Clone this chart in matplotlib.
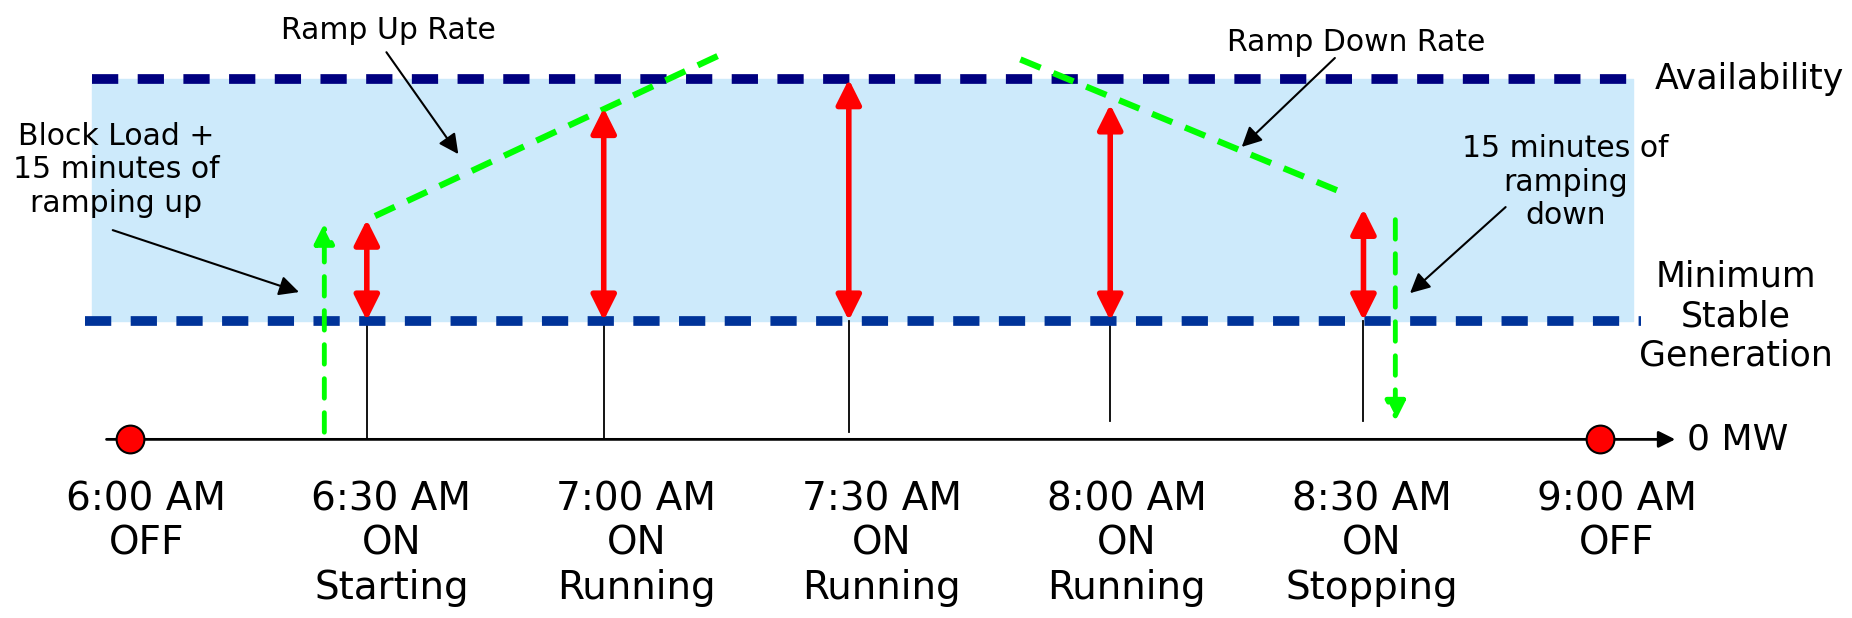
import numpy as np
import matplotlib
matplotlib.use("Agg")
import matplotlib.pyplot as plt

plt.rcParams['font.family'] = ['DejaVu Sans']

# time in minutes after 6:00 AM, output in MW (availability = 100)
clock_times = [0, 30, 60, 90, 120, 150, 180]
clock_labels = ["6:00 AM\nOFF", "6:30 AM\nON\nStarting", "7:00 AM\nON\nRunning",
                "7:30 AM\nON\nRunning", "8:00 AM\nON\nRunning", "8:30 AM\nON\nStopping",
                "9:00 AM\nOFF"]
off_times = [0, 180]

availability = 100
min_stable = 33

# dispatch points while the unit is on
on_times = [29, 58, 88, 120, 151]
on_output = [61, 92, 100, 93, 64]
tick_bottom = [0, 0, 2, 5, 5]

# ramp rate lines
ramp_up_t = [30, 72]
ramp_up_mw = [62, 106.5]
ramp_down_t = [109, 149]
ramp_down_mw = [105.5, 68]

# block load on start-up and final ramp to zero
start_t, start_from, start_to = 23.8, 2, 60
stop_t, stop_from, stop_to = 154.9, 61, 5

fig = plt.figure(figsize=(18.52, 6.18), dpi=100)
ax = fig.add_axes([0, 0, 1, 1])
ax.set_xlim(-15.9, 210.8)
ax.set_ylim(-49.6, 122)
ax.axis('off')

# operating band
ax.fill_between([-4.6, 184], min_stable, availability, color='#cdeafb', zorder=0)
ax.plot([-4.6, 184], [availability]*2, color='#000080', lw=7, dashes=(2.7, 2.0), zorder=2)
ax.plot([-5.5, 185], [min_stable]*2, color='#003399', lw=7, dashes=(2.7, 2.0), zorder=2)

# time axis
ax.annotate("", xy=(189.5, 0), xytext=(-3.2, 0),
            arrowprops=dict(arrowstyle='-|>', color='black', lw=2, mutation_scale=25))
ax.plot(off_times, [0, 0], 'o', color='red', mec='black', mew=1.5, ms=20, zorder=5)
ax.text(190.6, 0, "0 MW", fontsize=26, va='center', ha='left')

# vertical markers and the MW above minimum stable generation
for t, mw, yb in zip(on_times, on_output, tick_bottom):
    ax.plot([t, t], [yb, min_stable], color='black', lw=1.3, zorder=1)
    ax.annotate("", xy=(t, mw), xytext=(t, min_stable),
                arrowprops=dict(arrowstyle='<|-|>', color='red', lw=4,
                                mutation_scale=38, shrinkA=0, shrinkB=0), zorder=4)

# ramp rates
ax.plot(ramp_up_t, ramp_up_mw, color='#00ff00', lw=4.5, dashes=(3.5, 2.2), zorder=3)
ax.plot(ramp_down_t, ramp_down_mw, color='#00ff00', lw=4.5, dashes=(3.5, 2.2), zorder=3)
ax.annotate("", xy=(start_t, start_to), xytext=(start_t, start_from),
            arrowprops=dict(arrowstyle='-|>', color='#00ff00', lw=3.5, ls=(0, (4, 3)),
                            mutation_scale=30, shrinkA=0, shrinkB=0), zorder=3)
ax.annotate("", xy=(stop_t, stop_to), xytext=(stop_t, stop_from),
            arrowprops=dict(arrowstyle='-|>', color='#00ff00', lw=3.5, ls=(0, (4, 3)),
                            mutation_scale=30, shrinkA=0, shrinkB=0), zorder=3)

# callouts
arrow_kw = dict(arrowstyle='-|>', color='black', lw=1.5, mutation_scale=30,
                shrinkA=0, shrinkB=0)
ax.text(31.7, 113.6, "Ramp Up Rate", fontsize=21.5, ha='center', va='center')
ax.annotate("", xy=(40.2, 79.2), xytext=(31.4, 107.5), arrowprops=arrow_kw)
ax.text(150.1, 110.3, "Ramp Down Rate", fontsize=21.5, ha='center', va='center')
ax.annotate("", xy=(136.1, 81.2), xytext=(147.5, 105.9), arrowprops=arrow_kw)
ax.text(-1.7, 74.8, "Block Load +\n15 minutes of\nramping up", fontsize=21.5,
        ha='center', va='center', linespacing=1.2)
ax.annotate("", xy=(20.7, 40.9), xytext=(-2.1, 58.1), arrowprops=arrow_kw)
ax.text(175.7, 71.4, "15 minutes of\nramping\ndown", fontsize=21.5,
        ha='center', va='center', linespacing=1.2)
ax.annotate("", xy=(156.7, 40.6), xytext=(168.4, 64.5), arrowprops=arrow_kw)

ax.text(186.7, availability, "Availability", fontsize=25, ha='left', va='center')
ax.text(196.6, 34.2, "Minimum\nStable\nGeneration", fontsize=25, ha='center',
        va='center', linespacing=1.2)

for t, lab in zip(clock_times, clock_labels):
    ax.text(t + 2, -11.5, lab, fontsize=28, ha='center', va='top', linespacing=1.2)

fig.savefig("out.png", dpi=100)
